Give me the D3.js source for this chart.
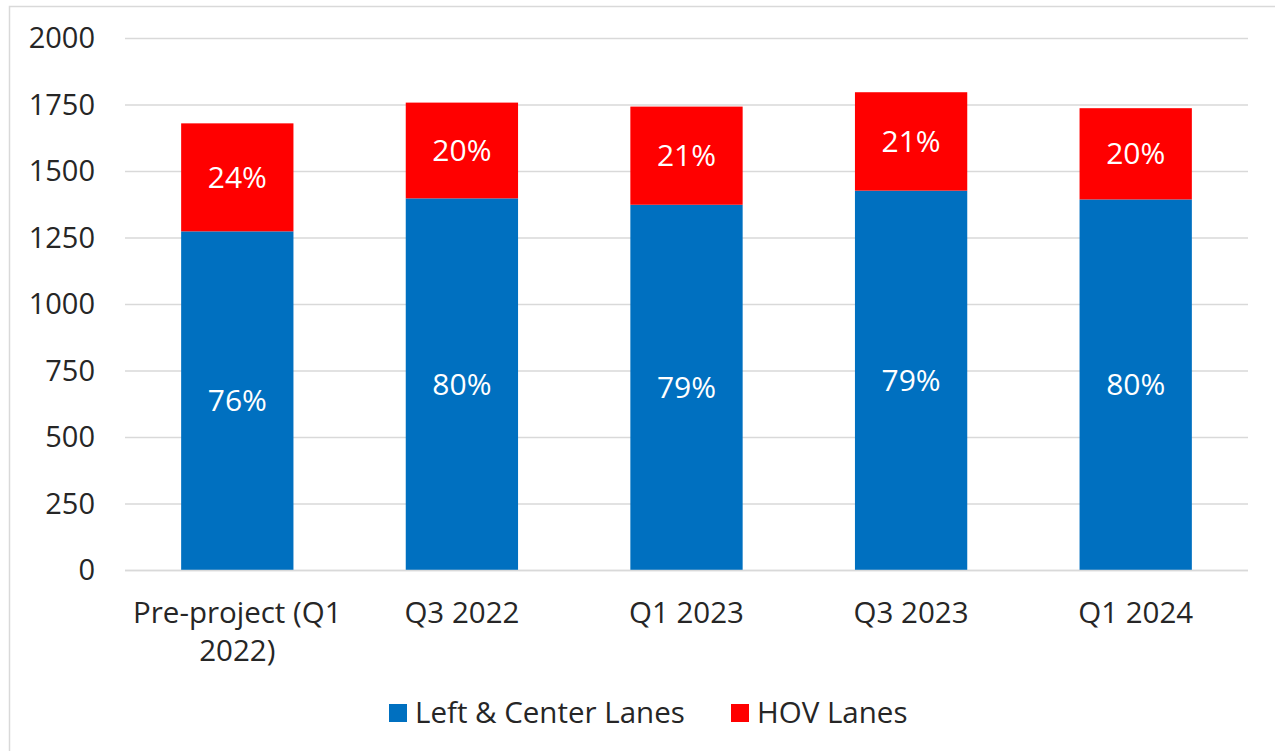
<!DOCTYPE html>
<html>
<head>
<meta charset="utf-8">
<script src="https://cdn.jsdelivr.net/npm/d3@7"></script>
<style>
  body { margin: 0; background: #fff; }
  svg text { font-family: "Open Sans", sans-serif; }
</style>
</head>
<body>
<div id="chart"></div>
<script>
// Data
const categories = ["Pre-project (Q1 2022)", "Q3 2022", "Q1 2023", "Q3 2023", "Q1 2024"];
const leftCenter = [1275, 1399, 1375, 1428, 1395];
const hov = [406, 360, 369, 370, 343];
const leftLabels = ["76%", "80%", "79%", "79%", "80%"];
const hovLabels = ["24%", "20%", "21%", "21%", "20%"];
const seriesNames = ["Left & Center Lanes", "HOV Lanes"];
const seriesColors = ["#0070C0", "#FF0000"];
const yTicks = [0, 250, 500, 750, 1000, 1250, 1500, 1750, 2000];

const width = 1275, height = 751;
const margin = { top: 38.5, right: 27, bottom: 180.5, left: 125 };
const plotW = width - margin.left - margin.right;
const plotH = height - margin.top - margin.bottom;

const svg = d3.select("#chart").append("svg")
    .attr("width", width)
    .attr("height", height);

// outer frame (only top and left edges visible in the picture)
svg.append("rect")
    .attr("x", 9.5).attr("y", 6.5)
    .attr("width", width + 20).attr("height", height + 20)
    .attr("fill", "none")
    .attr("stroke", "#d9d9d9")
    .attr("stroke-width", 1.5);

const g = svg.append("g").attr("transform", `translate(${margin.left},${margin.top})`);

const x = d3.scaleBand().domain(categories).range([0, plotW]).paddingInner(0.5).paddingOuter(0.25);
const y = d3.scaleLinear().domain([0, 2000]).range([plotH, 0]);

// gridlines
g.append("g")
    .selectAll("line")
    .data(yTicks)
    .join("line")
    .attr("x1", 0).attr("x2", plotW)
    .attr("y1", d => y(d)).attr("y2", d => y(d))
    .attr("stroke", "#d9d9d9")
    .attr("stroke-width", 1.5);

// y axis labels
const yAxis = g.append("g")
    .call(d3.axisLeft(y).tickValues(yTicks).tickFormat(d3.format("d")).tickSize(0).tickPadding(30));
yAxis.select(".domain").remove();
yAxis.selectAll("text")
    .attr("font-size", 29)
    .attr("fill", "#262626")
    .style("font-family", "'Open Sans', sans-serif");

// stack the two series
const rows = categories.map((c, i) => ({ cat: c, a: leftCenter[i], b: hov[i] }));
const stacked = d3.stack().keys(["a", "b"])(rows);
const labels = [leftLabels, hovLabels];

stacked.forEach((layer, si) => {
    const lg = g.append("g");
    lg.selectAll("rect")
        .data(layer)
        .join("rect")
        .attr("x", d => x(d.data.cat))
        .attr("width", x.bandwidth())
        .attr("y", d => y(d[1]))
        .attr("height", d => y(d[0]) - y(d[1]))
        .attr("fill", seriesColors[si]);

    lg.selectAll("text")
        .data(layer)
        .join("text")
        .attr("x", d => x(d.data.cat) + x.bandwidth() / 2)
        .attr("y", d => (y(d[0]) + y(d[1])) / 2)
        .attr("dy", "0.35em")
        .attr("text-anchor", "middle")
        .attr("font-size", 30)
        .attr("fill", "#fff")
        .text((d, i) => labels[si][i]);
});

// x axis baseline
g.append("line")
    .attr("x1", 0).attr("x2", plotW)
    .attr("y1", plotH).attr("y2", plotH)
    .attr("stroke", "#d9d9d9")
    .attr("stroke-width", 1.5);

// category labels, wrapped like the original
const wrapped = {
    "Pre-project (Q1 2022)": ["Pre-project (Q1", "2022)"]
};
const xl = g.append("g");
categories.forEach(c => {
    const lines = wrapped[c] || [c];
    const t = xl.append("text")
        .attr("x", x(c) + x.bandwidth() / 2)
        .attr("y", plotH + 52)
        .attr("text-anchor", "middle")
        .attr("font-size", 29.5)
        .attr("fill", "#262626");
    lines.forEach((ln, k) => {
        t.append("tspan")
            .attr("x", x(c) + x.bandwidth() / 2)
            .attr("dy", k === 0 ? 0 : 38)
            .text(ln);
    });
});

// legend
const legend = svg.append("g").attr("transform", "translate(389,713)");
const legendX = [0, 342];
seriesNames.forEach((name, i) => {
    const item = legend.append("g").attr("transform", `translate(${legendX[i]},0)`);
    item.append("rect")
        .attr("x", 0).attr("y", -9)
        .attr("width", 18).attr("height", 18)
        .attr("fill", seriesColors[i]);
    item.append("text")
        .attr("x", 26)
        .attr("y", 0)
        .attr("dy", "0.35em")
        .attr("font-size", 29.5)
        .attr("fill", "#262626")
        .text(name);
});
</script>
</body>
</html>
